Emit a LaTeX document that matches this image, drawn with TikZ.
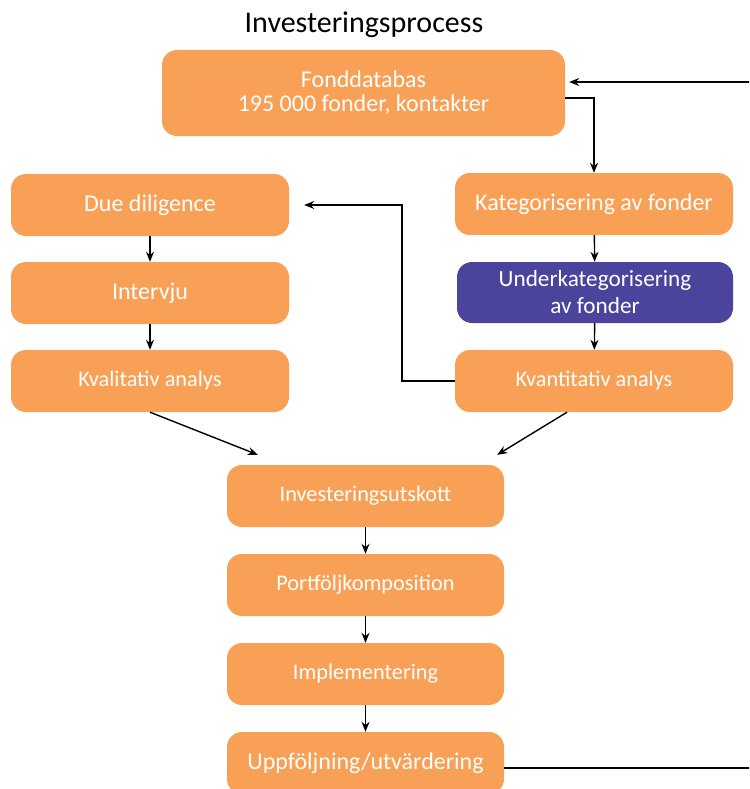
\documentclass[tikz,border=0pt]{standalone}
\usepackage{fontspec}
\setmainfont{Carlito}
\usetikzlibrary{arrows.meta,calc}
\definecolor{boxorange}{HTML}{F8A055}
\definecolor{boxpurple}{HTML}{4B449C}
\tikzset{
  stepbox/.style={draw=none, fill=boxorange, rounded corners=15pt, text=white, inner sep=0pt, align=center, font=\fontsize{24}{24}\selectfont},
  fsmall/.style={font=\fontsize{22.3}{24}\selectfont},
  arr/.style={draw=black, line width=1.4pt, -{Stealth[length=10pt,width=8pt]}},
}
\begin{document}
\begin{tikzpicture}[x=1pt,y=-1pt]
\useasboundingbox (0,0) rectangle (749,789);
\clip (0,0) rectangle (749,789);
\node[font=\fontsize{30}{34}\selectfont] (title) at (364,25) {Investeringsprocess};
\node[stepbox, minimum width=403pt, minimum height=86pt] (fond) at (363.5,93) {Fonddatabas\\195 000 fonder, kontakter};
\node[stepbox, minimum width=278pt, minimum height=62pt] (dd) at (150,205) {Due diligence};
\node[stepbox, minimum width=278pt, minimum height=62pt] (int) at (150,293) {Intervju};
\node[stepbox, fsmall, minimum width=278pt, minimum height=62pt] (kval) at (150,381) {Kvalitativ analys};
\node[stepbox, minimum width=278pt, minimum height=62pt] (kat) at (594,204) {Kategorisering av fonder};
\node[stepbox, fill=boxpurple, minimum width=276pt, minimum height=61pt, font=\fontsize{23.2}{27}\selectfont] (under) at (595,292.5) {Underkategorisering\\av fonder};
\node[stepbox, fsmall, minimum width=278pt, minimum height=62pt] (kvant) at (594,381) {Kvantitativ analys};
\node[stepbox, fsmall, minimum width=277pt, minimum height=62pt] (inv) at (365.5,496) {Investeringsutskott};
\node[stepbox, fsmall, minimum width=277pt, minimum height=62pt] (port) at (365.5,585) {Portföljkomposition};
\node[stepbox, fsmall, minimum width=277pt, minimum height=62pt] (impl) at (365.5,674) {Implementering};
\node[stepbox, minimum width=277pt, minimum height=62pt] (upp) at (365.5,763) {Uppföljning/utvärdering};
% connectors
\coordinate (fin) at ($(fond.east)+(4,-11)$);
\coordinate (fout) at ($(fond.east)+(0,5)$);
\coordinate (ddin) at ($(dd.east)+(15,0)$);
\coordinate (invL) at ($(inv.north west)+(31,-10)$);
\coordinate (invR) at ($(inv.north east)+(-7,-10)$);
\coordinate (kvantS) at ($(kvant.south)+(-27,0)$);
\coordinate (uppR) at ($(upp.east)+(0,5)$);
\draw[arr] (fout) -| (kat.north);
\draw[arr] (kat) -- (under);
\draw[arr] (under) -- (kvant);
\draw[arr] (kvant.west) -- ++(-53,0) |- (ddin);
\draw[arr] (dd) -- (int);
\draw[arr] (int) -- (kval);
\draw[arr] (kval.south) -- (invL);
\draw[arr] (kvantS) -- (invR);
\draw[arr] (inv) -- (port);
\draw[arr] (port) -- (impl);
\draw[arr] (impl) -- (upp);
\draw[arr] (uppR) -- ++(266,0) |- (fin);
\end{tikzpicture}
\end{document}
